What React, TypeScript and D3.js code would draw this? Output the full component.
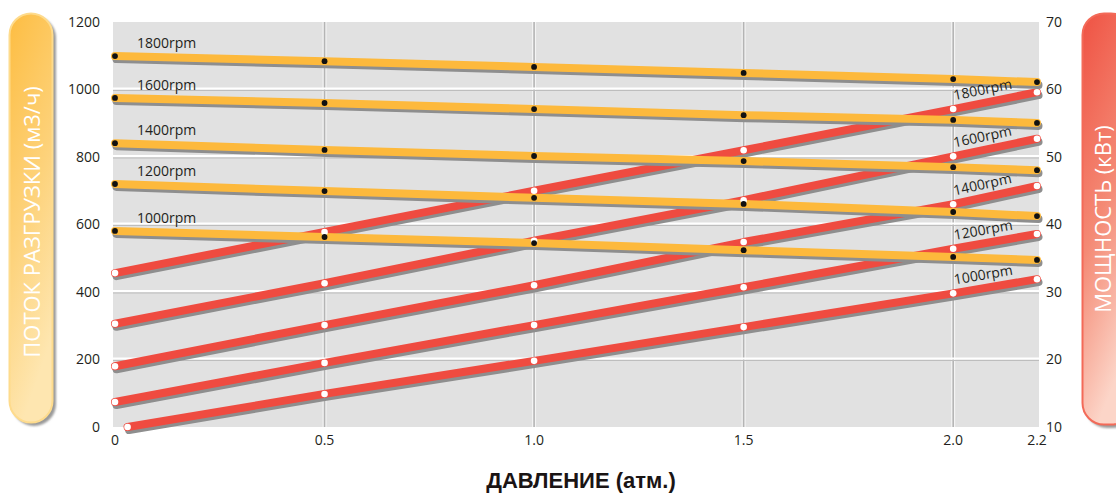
import React from 'react';
import * as d3 from 'd3';

// ---------- data ----------
const pressure = [0, 0.5, 1.0, 1.5, 2.0, 2.2];
const pressureTickLabels = ['0', '0.5', '1.0', '1.5', '2.0', '2.2'];
const flowTicks = [0, 200, 400, 600, 800, 1000, 1200];
const powerTicks = [10, 20, 30, 40, 50, 60, 70];
const rpmLabels = ['1800rpm', '1600rpm', '1400rpm', '1200rpm', '1000rpm'];

// flow (м3/ч), left axis
const flow1800 = [1099, 1084, 1067, 1049, 1031, 1022];
const flow1600 = [975, 960, 942, 924, 910, 901];
const flow1400 = [841, 821, 803, 788, 770, 761];
const flow1200 = [720, 699, 679, 661, 637, 625];
const flow1000 = [581, 563, 545, 524, 504, 495];

// power (кВт), right axis
const power1800 = [32.8, 38.9, 45.0, 51.0, 57.1, 59.6];
const power1600 = [25.3, 31.3, 37.6, 43.6, 50.1, 52.7];
const power1400 = [19.0, 25.1, 31.0, 37.4, 43.0, 45.7];
const power1200 = [13.7, 19.5, 25.1, 30.7, 36.4, 38.6];
const power1000 = [10.0, 14.9, 19.8, 24.8, 29.8, 31.9];
const power1000Pressure = [0.03, 0.5, 1.0, 1.5, 2.0, 2.2];

const flowSeries = [flow1800, flow1600, flow1400, flow1200, flow1000];
const powerSeries = [power1800, power1600, power1400, power1200, power1000];
const powerPressures = [pressure, pressure, pressure, pressure, power1000Pressure];

// ---------- layout ----------
const W = 1116;
const H = 495;
const plotL = 113;
const plotR = 1039;
const plotT = 22;
const plotB = 427;

const FONT = '"Open Sans", sans-serif';
const TXT = '#231f20';
const ORANGE = '#fdb93c';
const RED = '#ef4b40';
const SHADOW = '#8e8e8e';

export default function App() {
  const x = d3.scaleLinear().domain([0, 2.2]).range([115, 1037]);
  const yFlow = d3.scaleLinear().domain([0, 1200]).range([plotB, plotT]);
  const yPower = d3.scaleLinear().domain([10, 70]).range([plotB, plotT]);

  const flowLine = d3
    .line<number>()
    .x((_, i) => x(pressure[i]))
    .y((d) => yFlow(d));

  const powerLines = powerPressures.map((px) =>
    d3
      .line<number>()
      .x((_, i) => x(px[i]))
      .y((d) => yPower(d))
  );

  const gridVals = flowTicks.filter((v) => v > 0 && v < 1200);
  const gridX = pressure.filter((v) => v > 0 && v < 2.2);

  return (
    <svg
      width={W}
      height={H}
      viewBox={`0 0 ${W} ${H}`}
      style={{ position: 'absolute', left: 0, top: 0, background: '#fff' }}
    >
      <defs>
        <linearGradient id="gOrange" x1="0" y1="0" x2="0.3" y2="1">
          <stop offset="0" stopColor="#fdbd42" />
          <stop offset="0.55" stopColor="#fdd27a" />
          <stop offset="1" stopColor="#fee6b0" />
        </linearGradient>
        <linearGradient id="gRed" x1="0" y1="0" x2="0.3" y2="1">
          <stop offset="0" stopColor="#ef5243" />
          <stop offset="0.55" stopColor="#f48a75" />
          <stop offset="1" stopColor="#fcd5c8" />
        </linearGradient>
        <filter id="blur1" x="-10%" y="-10%" width="120%" height="120%">
          <feGaussianBlur stdDeviation="0.8" />
        </filter>
      </defs>

      {/* left pill */}
      <rect x={12} y={16} width={44} height={410} rx={22} fill="#9a9a9a" filter="url(#blur1)" />
      <rect x={9.5} y={13.5} width={43} height={409} rx={21.5} fill="url(#gOrange)" stroke="#fedb8c" strokeWidth={2} />
      <text
        transform={`translate(40,${(13 + 423) / 2 + 4}) rotate(-90)`}
        textAnchor="middle"
        fill="#fff"
        fontFamily={FONT}
        fontSize={22}
      >
        ПОТОК РАЗГРУЗКИ (м3/ч)
      </text>

      {/* right pill */}
      <rect x={1085} y={16} width={50} height={412} rx={22} fill="#9a9a9a" filter="url(#blur1)" />
      <rect x={1082.5} y={13.5} width={50} height={411} rx={21.5} fill="url(#gRed)" stroke="#f36a58" strokeWidth={2} />
      <text
        transform={`translate(1111,${(13 + 425) / 2}) rotate(-90)`}
        textAnchor="middle"
        fill="#fff"
        fontFamily={FONT}
        fontSize={22}
      >
        МОЩНОСТЬ (кВт)
      </text>

      {/* plot background */}
      <rect x={plotL} y={plotT} width={plotR - plotL} height={plotB - plotT} fill="#e1e1e1" />

      {/* vertical grid */}
      {gridX.map((v) => (
        <g key={'vx' + v}>
          <line x1={x(v)} x2={x(v)} y1={plotT} y2={plotB} stroke="#f4f4f4" strokeWidth={4} />
          <line x1={x(v)} x2={x(v)} y1={plotT} y2={plotB} stroke="#b4b4b4" strokeWidth={1.6} />
        </g>
      ))}
      {/* horizontal grid */}
      {gridVals.map((v) => (
        <g key={'hy' + v}>
          <line x1={plotL} x2={plotR} y1={yFlow(v) - 1} y2={yFlow(v) - 1} stroke="#ffffff" strokeWidth={2} />
          <line x1={plotL} x2={plotR} y1={yFlow(v) + 1} y2={yFlow(v) + 1} stroke="#bdbdbd" strokeWidth={1.2} />
        </g>
      ))}

      {/* power lines (red) */}
      {powerSeries.map((s, k) => (
        <path
          key={'ps' + k}
          d={powerLines[k](s) || ''}
          transform="translate(1.5,3)"
          fill="none"
          stroke={SHADOW}
          strokeWidth={8}
          strokeLinecap="round"
          strokeLinejoin="round"
        />
      ))}
      {powerSeries.map((s, k) => (
        <path
          key={'pl' + k}
          d={powerLines[k](s) || ''}
          fill="none"
          stroke={RED}
          strokeWidth={8}
          strokeLinecap="round"
          strokeLinejoin="round"
        />
      ))}

      {/* flow lines (orange) */}
      {flowSeries.map((s, k) => (
        <path
          key={'fs' + k}
          d={flowLine(s) || ''}
          transform="translate(1.5,3)"
          fill="none"
          stroke={SHADOW}
          strokeWidth={8}
          strokeLinecap="round"
          strokeLinejoin="round"
        />
      ))}
      {flowSeries.map((s, k) => (
        <path
          key={'fl' + k}
          d={flowLine(s) || ''}
          fill="none"
          stroke={ORANGE}
          strokeWidth={8}
          strokeLinecap="round"
          strokeLinejoin="round"
        />
      ))}

      {/* white dots on power lines */}
      {powerSeries.map((s, k) =>
        s.map((v, i) => (
          <circle key={`pd${k}-${i}`} cx={x(powerPressures[k][i])} cy={yPower(v)} r={3.3} fill="#fff" />
        ))
      )}
      {/* black dots on flow lines */}
      {flowSeries.map((s, k) =>
        s.map((v, i) => (
          <circle key={`fd${k}-${i}`} cx={x(pressure[i])} cy={yFlow(v)} r={2.9} fill="#111" />
        ))
      )}

      {/* rpm labels on flow lines */}
      {flowSeries.map((s, k) => {
        const v = s[0] + (s[1] - s[0]) * (0.06 / 0.5);
        return (
          <text
            key={'fll' + k}
            x={x(0) + 22}
            y={yFlow(v) - 9}
            fill={TXT}
            fontFamily={FONT}
            fontSize={14}
          >
            {rpmLabels[k]}
          </text>
        );
      })}

      {/* rpm labels on power lines */}
      {powerSeries.map((s, k) => {
        const px = powerPressures[k];
        const x0 = x(px[4]);
        const y0 = yPower(s[4]);
        const x1 = x(px[5]);
        const y1 = yPower(s[5]);
        const ang = (Math.atan2(y1 - y0, x1 - x0) * 180) / Math.PI;
        return (
          <text
            key={'pll' + k}
            transform={`translate(${x0 + 3},${y0 - 1}) rotate(${ang}) translate(0,-8)`}
            fill={TXT}
            fontFamily={FONT}
            fontSize={14}
          >
            {rpmLabels[k]}
          </text>
        );
      })}

      {/* left axis labels */}
      {flowTicks.map((v) => (
        <text
          key={'lt' + v}
          x={100}
          y={yFlow(v)}
          dy="0.35em"
          textAnchor="end"
          fill={TXT}
          fontFamily={FONT}
          fontSize={14}
        >
          {v}
        </text>
      ))}
      {/* right axis labels */}
      {powerTicks.map((v) => (
        <text
          key={'rt' + v}
          x={1046}
          y={yPower(v)}
          dy="0.35em"
          textAnchor="start"
          fill={TXT}
          fontFamily={FONT}
          fontSize={14}
        >
          {v}
        </text>
      ))}
      {/* bottom axis labels */}
      {pressure.map((v, i) => (
        <text
          key={'bt' + v}
          x={x(v)}
          y={445}
          textAnchor="middle"
          fill={TXT}
          fontFamily={FONT}
          fontSize={14}
        >
          {pressureTickLabels[i]}
        </text>
      ))}

      {/* x title */}
      <text
        x={581}
        y={488}
        textAnchor="middle"
        fill="#1a1414"
        fontFamily='"Liberation Sans", Arial, sans-serif'
        fontWeight="bold"
        fontSize={22}
      >
        ДАВЛЕНИЕ (атм.)
      </text>
    </svg>
  );
}
